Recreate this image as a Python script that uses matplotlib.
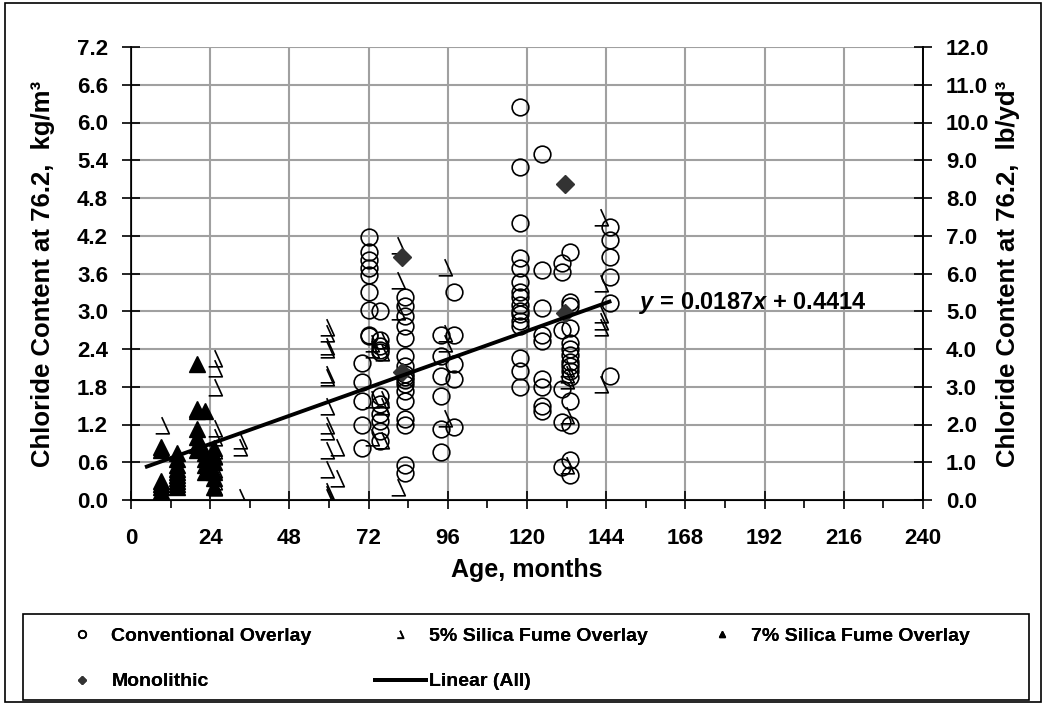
import numpy as np
import matplotlib.pyplot as plt
from matplotlib.path import Path
from matplotlib.patches import Rectangle
from matplotlib.ticker import MultipleLocator, FormatStrFormatter

plt.rcParams['font.family'] = ['Liberation Sans', 'DejaVu Sans']
plt.rcParams['font.weight'] = 'bold'
plt.rcParams['mathtext.fontset'] = 'custom'
plt.rcParams['mathtext.it'] = 'Liberation Sans:bold:italic'
plt.rcParams['mathtext.rm'] = 'Liberation Sans:bold'

# Conventional overlay (age in months, chloride kg/m3)
conv_x = [70] * 5 + [72] * 9 + [75.5] * 11 + [83] * 17 + [94] * 6 + [98] * 5 \
    + [118] * 16 + [124.5] * 9 + [130.5] * 6 + [133] * 15 + [145] * 6
conv_y = [2.18, 1.87, 1.58, 1.19, 0.82,
          4.18, 3.94, 3.81, 3.68, 3.57, 3.31, 3.02, 2.63, 2.60,
          3.0, 2.55, 2.45, 2.39, 2.35, 1.65, 1.52, 1.37, 1.25, 1.09, 0.93,
          3.23, 3.08, 2.92, 2.76, 2.58, 2.29, 2.13, 2.0, 1.95, 1.9, 1.85, 1.74, 1.58, 1.29, 1.19, 0.56, 0.43,
          2.63, 2.29, 1.97, 1.66, 1.13, 0.77,
          3.31, 2.63, 2.16, 1.92, 1.16,
          6.25, 5.3, 4.4, 3.84, 3.68, 3.47, 3.3, 3.22, 3.1, 3.0, 2.95, 2.85, 2.76, 2.26, 2.05, 1.79,
          5.5, 3.65, 3.05, 2.63, 2.52, 1.92, 1.79, 1.5, 1.42,
          3.76, 3.63, 2.7, 1.76, 1.24, 0.53,
          3.94, 3.15, 3.08, 2.74, 2.5, 2.4, 2.3, 2.2, 2.13, 2.05, 1.95, 1.58, 1.19, 0.63, 0.4,
          4.34, 4.13, 3.86, 3.55, 3.13, 1.97]

# 5% silica fume overlay
sf5_x = [9.5] * 3 + [25.5] * 10 + [33] * 3 + [59.5] * 14 + [62.5] * 2 + [73] * 4 + [76] * 5 \
    + [81] * 4 + [95] * 4 + [132] * 5 + [142.5] * 6
sf5_y = [1.2, 0.1, 0.0,
         2.25, 2.1, 1.8, 1.15, 1.0, 0.8, 0.7, 0.5, 0.3, 0.2,
         0.95, 0.85, 0.05,
         2.75, 2.65, 2.45, 2.4, 2.0, 1.95, 1.5, 1.2, 1.1, 0.8, 0.5, 0.15, 0.1, 0.05,
         0.85, 0.35,
         2.5, 2.4, 1.6, 1.0,
         2.55, 2.35, 1.6, 1.5, 0.95,
         4.05, 3.5, 3.0, 0.2,
         3.7, 2.65, 2.5, 1.3,
         2.1, 2.0, 1.9, 1.35, 0.55,
         4.5, 3.45, 2.95, 2.85, 2.75, 1.85]

# 7% silica fume overlay
sf7_x = [9] * 8 + [14] * 10 + [20] * 7 + [22.4] * 5 + [25] * 6
sf7_y = [0.85, 0.8, 0.3, 0.25, 0.2, 0.15, 0.1, 0.05,
         0.75, 0.65, 0.55, 0.5, 0.45, 0.4, 0.35, 0.3, 0.25, 0.2,
         2.16, 1.45, 1.42, 1.13, 1.0, 0.87, 0.8,
         1.42, 0.75, 0.65, 0.55, 0.45,
         0.82, 0.7, 0.6, 0.45, 0.35, 0.2]

# Monolithic
mono_x = [82, 82, 131.5, 131.5]
mono_y = [3.86, 2.03, 5.02, 2.97]

# Linear fit of all data
fit_slope = 0.0187
fit_intercept = 0.4414
fit_range = [4.8, 145]

W, H = 1045, 704

# custom marker for the 5% silica fume series
sf5_marker = Path([(-0.05, 0.55), (0.45, -0.55), (-0.45, -0.55)],
                  [Path.MOVETO, Path.LINETO, Path.LINETO])

fig = plt.figure(figsize=(W / 100, H / 100), dpi=100)
ax = fig.add_axes([131 / W, 1 - 500 / H, (923 - 131) / W, (500 - 47) / H])

h_conv, = ax.plot(conv_x, conv_y, 'o', ms=12, mfc='none', mec='black', mew=1.2,
                  label='Conventional Overlay', zorder=3)
h_sf5, = ax.plot(sf5_x, sf5_y, ls='none', marker=sf5_marker, ms=12, mfc='none',
                 mec='black', mew=1.2, label='5% Silica Fume Overlay', zorder=3)
h_sf7, = ax.plot(sf7_x, sf7_y, '^', ms=11, color='black', label='7% Silica Fume Overlay', zorder=3)
h_mono, = ax.plot(mono_x, mono_y, 'D', ms=9, color='#333333', label='Monolithic', zorder=4)
fx = np.array(fit_range)
h_fit, = ax.plot(fx, fit_slope * fx + fit_intercept, color='black', lw=2.8,
                 label='Linear (All)', zorder=5)

ax.text(154, 3.13, r'$y$ = 0.0187$x$ + 0.4414', fontsize=17, fontweight='bold',
        va='center', ha='left')

ax.set_xlim(0, 240)
ax.set_ylim(0, 7.2)
ax.xaxis.set_major_locator(MultipleLocator(24))
ax.xaxis.set_minor_locator(MultipleLocator(12))
ax.yaxis.set_major_locator(MultipleLocator(0.6))
ax.yaxis.set_major_formatter(FormatStrFormatter('%.1f'))
ax.grid(True, which='major', color='#a0a0a0', lw=1.5)
ax.set_axisbelow(True)
ax.tick_params(which='major', direction='inout', length=13, width=1.2, labelsize=16)
ax.tick_params(axis='x', which='major', pad=14)
ax.tick_params(axis='y', which='major', pad=10)
ax.tick_params(which='minor', direction='out', length=6, width=1.2)
ax.tick_params(axis='y', which='minor', left=False)
ax.spines['top'].set_visible(False)
for s in ['left', 'bottom', 'right']:
    ax.spines[s].set_linewidth(1.2)
ax.set_xlabel('Age, months', fontsize=18, fontweight='bold')
ax.xaxis.set_label_coords(0.5, (500 - 558) / 453)
ax.set_ylabel('Chloride Content at 76.2,  kg/m³', fontsize=18.5, fontweight='bold', va='center')
ax.yaxis.set_label_coords((43 - 131) / 792, 0.5)

ax2 = ax.twinx()
ax2.set_ylim(0, 12)
ax2.yaxis.set_major_locator(MultipleLocator(1.0))
ax2.yaxis.set_major_formatter(FormatStrFormatter('%.1f'))
ax2.tick_params(direction='inout', length=13, width=1.2, labelsize=16, pad=10)
ax2.spines['top'].set_visible(False)
ax2.spines['right'].set_linewidth(1.2)
ax2.set_ylabel('Chloride Content at 76.2,  lb/yd³', fontsize=18.5, fontweight='bold', va='center')
ax2.yaxis.set_label_coords((1008 - 131) / 792, 0.5)

# legend: three columns inside one frame
leg_kw = dict(loc='upper left', frameon=False, prop={'size': 14, 'weight': 'bold'},
              markerscale=0.45, handlelength=2.6, handletextpad=0.2, labelspacing=1.45,
              borderpad=0, borderaxespad=0)
columns = [([h_conv, h_mono], ['Conventional Overlay', 'Monolithic'], 57),
           ([h_sf5, h_fit], ['5% Silica Fume Overlay', 'Linear (All)'], 375),
           ([h_sf7], ['7% Silica Fume Overlay'], 697)]
for handles, labels, left in columns:
    lg = fig.legend(handles, labels, bbox_to_anchor=(left / W, 1 - 627 / H), **leg_kw)
    fig.add_artist(lg)

fig.patches.append(Rectangle((23 / W, 1 - 700 / H), (1029 - 23) / W, 86 / H, fill=False,
                             ec='black', lw=1.2, transform=fig.transFigure))
fig.patches.append(Rectangle((5 / W, 2 / H), 1036 / W, 699 / H, fill=False,
                             ec='black', lw=1.2, transform=fig.transFigure))

# make the tick labels bold once the ticks exist
fig.canvas.draw()
for tick in ax.xaxis.get_major_ticks() + ax.yaxis.get_major_ticks() + ax2.yaxis.get_major_ticks():
    tick.label1.set_fontweight('bold')
    tick.label2.set_fontweight('bold')

fig.savefig('out.png', dpi=100)
